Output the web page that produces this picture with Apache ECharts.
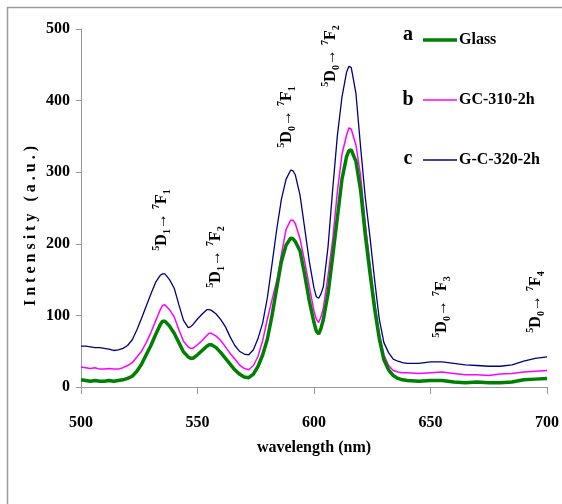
<!DOCTYPE html>
<html>
<head>
<meta charset="utf-8">
<script src="https://cdn.jsdelivr.net/npm/echarts@6/dist/echarts.min.js"></script>
<style>
html,body{margin:0;padding:0;background:#fff;}
#chart{width:562px;height:504px;}
</style>
</head>
<body>
<div id="chart"></div>
<script>
// ---- data ----
var wavelength = [500,502,504,506,508,510,512,514,516,518,520,522,524,526,528,530,532,534,535,536,538,540,542,544,546,547,548,550,552,554,555,556,558,560,562,564,566,568,570,572,574,576,578,580,582,584,586,588,590,591,592,594,596,598,600,601,602,603,604,606,608,610,612,614,615,616,618,620,622,624,626,628,630,632,634,636,638,640,645,650,655,660,665,670,675,680,685,690,695,700];
var glass = [10,9,8,9,8,8,9,8,9,10,12,15,22,32,45,58,73,87,92,92,85,75,62,49,42,40,40,45,51,57,59,59,55,48,40,32,24,18,14,13,18,29,45,67,100,138,175,198,208,207,203,190,157,120,90,78,74,82,94,130,182,236,290,322,330,331,315,275,213,160,110,68,38,24,16,12,10,9,8,9,9,7,6,7,6,6,7,10,11,12];
var gc310 = [28,27,26,27,25,25,26,25,25,27,30,34,42,50,62,76,92,108,114,115,108,98,80,64,56,54,54,59,65,72,75,75,71,65,56,47,39,31,26,24,30,43,65,95,122,148,185,220,233,233,228,207,175,140,106,95,90,98,110,155,205,272,325,352,362,360,338,295,228,172,118,75,45,30,23,21,20,20,19,20,21,19,17,17,16,18,19,21,22,23];
var gc320 = [57,57,56,55,55,54,53,51,52,54,58,66,80,96,113,130,146,156,158,158,150,138,115,93,83,84,87,95,102,108,108,107,102,94,84,70,58,50,46,45,52,68,90,125,172,220,262,290,303,302,296,268,222,175,138,126,124,130,140,195,275,350,405,440,448,446,410,335,265,210,150,95,62,48,39,36,34,33,33,35,35,33,31,30,29,29,31,36,40,42];
var seriesNames = ['Glass','GC-310-2h','G-C-320-2h'];
var seriesLetters = ['a','b','c'];
var xTicks = [500,550,600,650,700];
var yTicks = [0,100,200,300,400,500];
var annotations = [
  {upper:'1', lower:'1'},
  {upper:'1', lower:'2'},
  {upper:'0', lower:'1'},
  {upper:'0', lower:'2'},
  {upper:'0', lower:'3'},
  {upper:'0', lower:'4'}
];
// ---------------------------------------

function pairs(ys){ return wavelength.map(function(x,i){ return [x, ys[i]]; }); }

var FONT = '"Liberation Serif","Times New Roman",serif';
var chart = echarts.init(document.getElementById('chart'), null, {renderer:'canvas'});

var annPos = [[162,220],[216,257],[287,117],[331,56],[442,307],[536,302]];
var rich = {
  m:{fontFamily:FONT,fontWeight:'bold',fontSize:16,lineHeight:21,color:'#000'},
  sup:{fontFamily:FONT,fontWeight:'bold',fontSize:10,lineHeight:10,verticalAlign:'top',color:'#000'},
  sub:{fontFamily:FONT,fontWeight:'bold',fontSize:10,lineHeight:10,verticalAlign:'bottom',color:'#000'}
};
var graphics = [
  {type:'rect', shape:{x:7.5,y:7.5,width:600,height:600}, style:{fill:null,stroke:'#9a9a9a',lineWidth:1.5}, silent:true}
];
annotations.forEach(function(a,i){
  graphics.push({
    type:'text', x:annPos[i][0], y:annPos[i][1], rotation:Math.PI/2,
    style:{
      text:'{sup|5}{m|D}{sub|'+a.upper+'}{m|→ }{sup|7}{m|F}{sub|'+a.lower+'}',
      rich:rich, align:'center', verticalAlign:'middle'
    }
  });
});
var letterY = [35,100,159];
seriesLetters.forEach(function(l,i){
  graphics.push({type:'text', x:408, y:letterY[i], style:{text:l, fontFamily:FONT, fontWeight:'bold', fontSize:20, fill:'#000', align:'center', verticalAlign:'middle'}});
});

var colors = ['#008000','#ff00ff','#000080'];
var widths = [3.5,1.5,1.3];
var iconPaths = ['path://M0,0 H34 V3.5 H0 Z','path://M0,0 H34 V1.5 H0 Z','path://M0,0 H34 V1.3 H0 Z'];
var datasets = [glass, gc310, gc320];

chart.setOption({
  animation:false,
  backgroundColor:'#fff',
  grid:{left:81,right:11,top:29,bottom:117,containLabel:false},
  legend:{
    orient:'vertical', left:418, top:27, itemWidth:34, itemHeight:14, itemGap:44,
    symbolKeepAspect:true,
    data:seriesNames.map(function(n,i){ return {name:n, icon:iconPaths[i], itemStyle:{color:colors[i]}}; }),
    textStyle:{fontFamily:FONT,fontWeight:'bold',fontSize:16,color:'#000',padding:[0,0,0,-3]}
  },
  xAxis:{
    type:'value', min:500, max:700, interval:50,
    name:'wavelength (nm)', nameLocation:'middle', nameGap:53,
    nameTextStyle:{fontFamily:FONT,fontWeight:'bold',fontSize:16,color:'#000'},
    axisLine:{lineStyle:{color:'#999',width:1}},
    axisTick:{show:true,length:7,lineStyle:{color:'#999'}},
    axisLabel:{margin:28,fontFamily:FONT,fontWeight:'bold',fontSize:16,color:'#000'},
    splitLine:{show:false}
  },
  yAxis:{
    type:'value', min:0, max:500, interval:100,
    name:'I n t e n s i t y   ( a . u . )', nameLocation:'middle', nameGap:42,
    nameMoveOverlap:false,
    nameTextStyle:{fontFamily:FONT,fontWeight:'bold',fontSize:16,color:'#000',padding:[0,36,0,0]},
    axisLine:{show:true,lineStyle:{color:'#999',width:1}},
    axisTick:{show:true,length:5,lineStyle:{color:'#999'}},
    axisLabel:{margin:11,fontFamily:FONT,fontWeight:'bold',fontSize:16,color:'#000'},
    splitLine:{show:false}
  },
  graphic:graphics,
  series:datasets.map(function(d,i){
    return {
      name:seriesNames[i], type:'line', data:pairs(d), showSymbol:false, symbol:'none',
      smooth:false, z:3-i,
      lineStyle:{color:colors[i],width:widths[i]},
      itemStyle:{color:colors[i]}
    };
  })
});
</script>
</body>
</html>
